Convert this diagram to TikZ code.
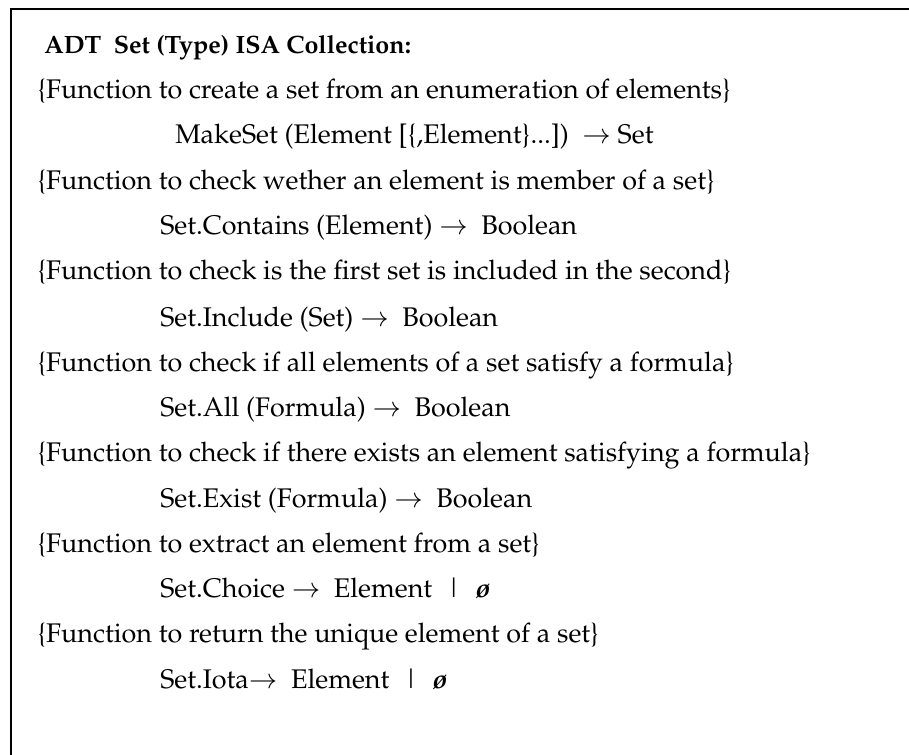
\documentclass[tikz,border=0pt]{standalone}
\usepackage[T1]{fontenc}
\usepackage{mathpazo}

\begin{document}
\begin{tikzpicture}[
    x=0.75pt, y=-0.75pt,
    txt/.style={anchor=base west, inner sep=0pt, font=\fontsize{20.2}{24}\selectfont},
    head/.style={txt, font=\fontsize{18.8}{23}\selectfont\bfseries},
    frame/.style={line width=2.2pt, line cap=rect}
]
\useasboundingbox (0,0) rectangle (909,755);

% frame: only top and left edges are visible
\coordinate (tl) at (11,9);
\coordinate (tr) at (909,9);
\coordinate (bl) at (11,755);
\draw[frame] (tr) -- (tl) -- (bl);

% header
\node[head] (adt) at (44,54) {ADT\ \ Set (Type) ISA Collection:};

% comments and signatures
\node[txt] (c1) at (37,99)  {\{Function to create a set from an enumeration of elements\}};
\node[txt] (f1) at (175,144) {MakeSet (Element [\{,Element\}...])\ \ $\rightarrow$ Set};
\node[txt] (c2) at (37,190) {\{Function to check wether an element is member of a set\}};
\node[txt] (f2) at (160,235) {Set.Contains (Element) $\rightarrow$\ \ Boolean};
\node[txt] (c3) at (37,280) {\{Function to check is the first set is included in the second\}};
\node[txt] (f3) at (160,326) {Set.Include (Set) $\rightarrow$\ \ Boolean};
\node[txt] (c4) at (37,371) {\{Function to check if all elements of a set satisfy a formula\}};
\node[txt] (f4) at (160,416) {Set.All (Formula) $\rightarrow$\ \ Boolean};
\node[txt] (c5) at (37,461) {\{Function to check if there exists an element satisfying a formula\}};
\node[txt] (f5) at (160,507) {Set.Exist (Formula) $\rightarrow$\ \ Boolean};
\node[txt] (c6) at (37,552) {\{Function to extract an element from a set\}};
\node[txt] (f6) at (160,597) {Set.Choice $\rightarrow$\ \ Element\ \ \textbar\ \ \textbf{\textit{\o}}};
\node[txt] (c7) at (37,642) {\{Function to return the unique element of a set\}};
\node[txt] (f7) at (160,688) {Set.Iota$\rightarrow$\ \ Element\ \ \textbar\ \ \textbf{\textit{\o}}};
\end{tikzpicture}
\end{document}
